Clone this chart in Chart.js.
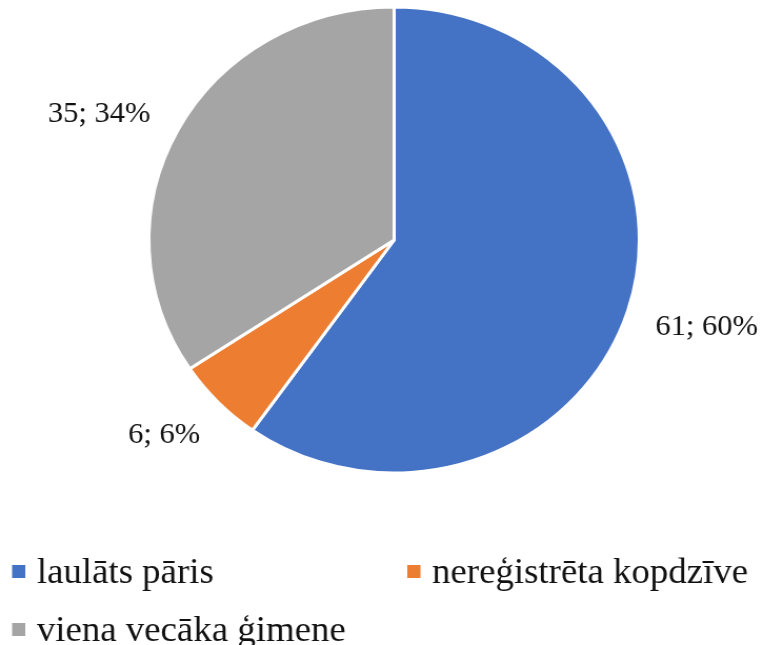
<!DOCTYPE html>
<html>
<head>
<meta charset="utf-8">
<script src="https://cdn.jsdelivr.net/npm/chart.js@4/dist/chart.umd.min.js"></script>
<style>
  html, body { margin: 0; padding: 0; background: #fff; }
  #pie { display: block; width: 763px; height: 645px; }
</style>
</head>
<body>
<canvas id="pie" width="725" height="645" style="width:763px;height:645px"></canvas>
<script>
const labels = ["laulāts pāris", "nereģistrēta kopdzīve", "viena vecāka ģimene"];
const values = [61, 6, 35];
const colors = ["#4472C4", "#ED7D31", "#A5A5A5"];

const FONT = "'Liberation Serif'";

/* value; percent labels outside each slice */
const sliceLabels = {
  id: "sliceLabels",
  afterDraw(chart) {
    const { ctx } = chart;
    const meta = chart.getDatasetMeta(0);
    const total = values.reduce((a, b) => a + b, 0);
    ctx.save();
    ctx.font = "29px " + FONT;
    ctx.fillStyle = "#111";
    ctx.textAlign = "center";
    ctx.textBaseline = "middle";
    meta.data.forEach((arc, i) => {
      const { x, y, startAngle, endAngle, outerRadius } = arc.getProps(
        ["x", "y", "startAngle", "endAngle", "outerRadius"], true);
      const mid = (startAngle + endAngle) / 2;
      const text = values[i] + "; " + Math.round(values[i] / total * 100) + "%";
      const w = ctx.measureText(text).width;
      const d = outerRadius + 33;
      const cx = x - 3 + Math.cos(mid) * d + Math.cos(mid) * w / 2;
      const cy = y + 4 + Math.sin(mid) * d + Math.sin(mid) * 9;
      ctx.fillText(text, cx, cy);
    });
    ctx.restore();
  }
};

/* legend in two columns like the original */
const boxLegend = {
  id: "boxLegend",
  afterDraw(chart) {
    const { ctx } = chart;
    const cols = [11.5, 387];
    const rows = [583, 641];
    ctx.save();
    ctx.font = "35px " + FONT;
    ctx.textAlign = "left";
    ctx.textBaseline = "alphabetic";
    labels.forEach((lab, i) => {
      const cx = cols[i % 2];
      const by = rows[Math.floor(i / 2)];
      ctx.fillStyle = colors[i];
      ctx.fillRect(cx, by - 18, 12.5, 13);
      ctx.fillStyle = "#111";
      ctx.fillText(lab, cx + 23.5, by);
    });
    ctx.restore();
  }
};

new Chart(document.getElementById("pie"), {
  type: "pie",
  data: {
    labels,
    datasets: [{
      data: values,
      backgroundColor: colors,
      borderColor: "#fff",
      borderWidth: 3
    }]
  },
  options: {
    responsive: false,
    animation: false,
    radius: 233,
    layout: { padding: { left: 24, right: 0, top: 0, bottom: 165 } },
    plugins: {
      legend: { display: false },
      tooltip: { enabled: false }
    }
  },
  plugins: [sliceLabels, boxLegend]
});
</script>
</body>
</html>
